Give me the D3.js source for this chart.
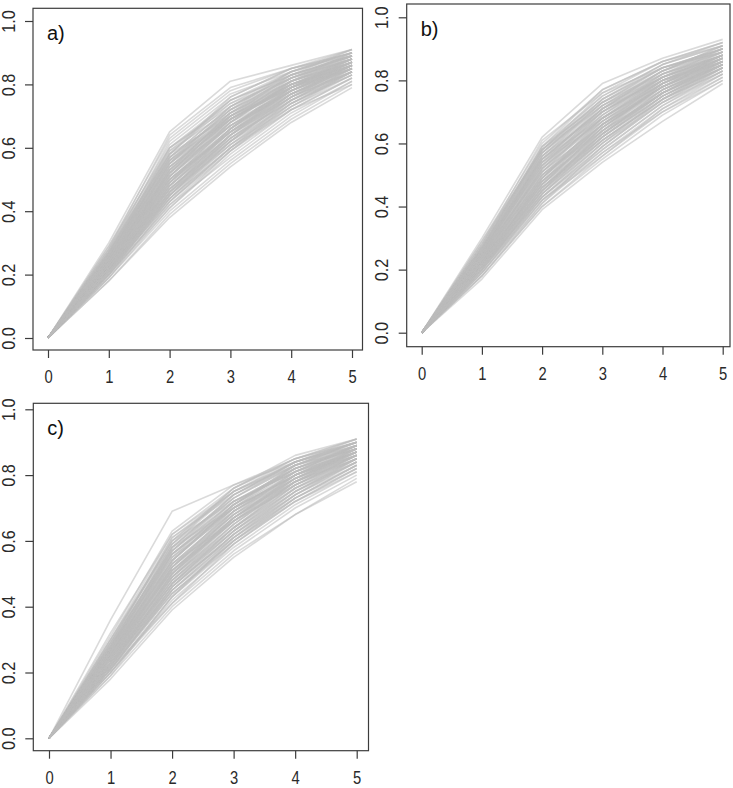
<!DOCTYPE html>
<html>
<head>
<meta charset="utf-8">
<script src="https://cdn.jsdelivr.net/npm/d3@7"></script>
<style>
  html, body { margin: 0; padding: 0; background: #fff; }
  svg { display: block; }
  text { font-family: "Liberation Sans", Arial, sans-serif; }
</style>
</head>
<body>
<svg id="chart" width="733" height="788"></svg>
<script>
// ---------------- data ----------------
const xValues = [0, 1, 2, 3, 4, 5];
const xTickLabels = ["0", "1", "2", "3", "4", "5"];
const yTicks = [0, 0.2, 0.4, 0.6, 0.8, 1.0];
const yTickLabels = ["0.0", "0.2", "0.4", "0.6", "0.8", "1.0"];
const panelLabels = ["a)", "b)", "c)"];

// each row: values at x = 0,1,2,3,4,5
const seriesA = [
  [0,0.30,0.65,0.81,0.86,0.91],[0,0.29,0.63,0.78,0.85,0.90],[0,0.28,0.61,0.76,0.85,0.90],
  [0,0.27,0.60,0.74,0.84,0.91],[0,0.28,0.58,0.75,0.83,0.89],[0,0.26,0.57,0.73,0.84,0.90],
  [0,0.27,0.56,0.72,0.82,0.88],[0,0.25,0.55,0.71,0.83,0.89],[0,0.26,0.54,0.70,0.81,0.88],
  [0,0.25,0.53,0.71,0.82,0.90],[0,0.24,0.52,0.69,0.80,0.87],[0,0.25,0.51,0.68,0.81,0.88],
  [0,0.23,0.50,0.67,0.79,0.87],[0,0.24,0.50,0.66,0.80,0.86],[0,0.23,0.49,0.66,0.78,0.86],
  [0,0.22,0.48,0.65,0.79,0.87],[0,0.23,0.47,0.64,0.77,0.85],[0,0.22,0.46,0.63,0.76,0.85],
  [0,0.21,0.45,0.62,0.77,0.86],[0,0.22,0.44,0.61,0.75,0.84],[0,0.21,0.43,0.60,0.74,0.83],
  [0,0.20,0.42,0.59,0.73,0.84],[0,0.20,0.41,0.58,0.72,0.82],[0,0.19,0.40,0.56,0.70,0.81],
  [0,0.18,0.38,0.54,0.68,0.79],[0,0.27,0.59,0.72,0.81,0.87],[0,0.26,0.56,0.69,0.79,0.86],
  [0,0.24,0.54,0.68,0.78,0.85],[0,0.25,0.52,0.70,0.83,0.91],[0,0.23,0.51,0.69,0.82,0.89],
  [0,0.24,0.53,0.67,0.77,0.84],[0,0.22,0.49,0.68,0.80,0.88],[0,0.23,0.48,0.66,0.81,0.90],
  [0,0.21,0.47,0.63,0.75,0.83],[0,0.22,0.45,0.64,0.78,0.87],[0,0.20,0.44,0.62,0.76,0.86],
  [0,0.21,0.46,0.61,0.73,0.82],[0,0.19,0.43,0.60,0.75,0.85],[0,0.20,0.42,0.57,0.71,0.81],
  [0,0.26,0.58,0.74,0.82,0.88],[0,0.25,0.57,0.71,0.80,0.86],[0,0.24,0.55,0.72,0.84,0.90],
  [0,0.27,0.62,0.77,0.84,0.89],[0,0.28,0.64,0.79,0.85,0.89],[0,0.23,0.52,0.70,0.80,0.86],
  [0,0.24,0.51,0.67,0.79,0.88],[0,0.22,0.50,0.65,0.77,0.86],[0,0.21,0.48,0.64,0.76,0.84],
  [0,0.22,0.47,0.62,0.74,0.83],[0,0.19,0.41,0.59,0.74,0.84],[0,0.20,0.45,0.63,0.77,0.85],
  [0,0.25,0.54,0.69,0.80,0.87],[0,0.26,0.55,0.73,0.83,0.89],[0,0.23,0.53,0.71,0.81,0.87],
  [0,0.24,0.49,0.65,0.78,0.87],[0,0.21,0.44,0.60,0.72,0.80],[0,0.18,0.39,0.55,0.69,0.80],
  [0,0.29,0.60,0.73,0.82,0.88],[0,0.27,0.58,0.70,0.79,0.85],[0,0.22,0.46,0.66,0.79,0.88],
  [0,0.26,0.57,0.71,0.81,0.87],[0,0.25,0.56,0.70,0.80,0.87],[0,0.25,0.55,0.69,0.79,0.86],
  [0,0.24,0.54,0.70,0.81,0.88],[0,0.24,0.53,0.69,0.80,0.88],[0,0.23,0.52,0.68,0.80,0.87],
  [0,0.23,0.51,0.67,0.78,0.86],[0,0.23,0.50,0.66,0.78,0.85],[0,0.22,0.49,0.66,0.79,0.87],
  [0,0.22,0.48,0.64,0.77,0.86],[0,0.22,0.47,0.63,0.75,0.84],[0,0.21,0.46,0.62,0.75,0.85],
  [0,0.21,0.45,0.61,0.74,0.84],[0,0.20,0.44,0.60,0.73,0.83],[0,0.26,0.59,0.75,0.84,0.90],
  [0,0.27,0.57,0.73,0.83,0.89],[0,0.25,0.56,0.72,0.82,0.89],[0,0.24,0.55,0.70,0.79,0.85],
  [0,0.23,0.53,0.69,0.79,0.86],[0,0.22,0.51,0.68,0.81,0.89],[0,0.24,0.52,0.67,0.78,0.86],
  [0,0.23,0.50,0.65,0.76,0.84],[0,0.22,0.49,0.65,0.77,0.85],[0,0.21,0.48,0.65,0.78,0.86],
  [0,0.22,0.47,0.64,0.76,0.84],[0,0.21,0.46,0.64,0.79,0.89],[0,0.20,0.45,0.62,0.76,0.86],
  [0,0.21,0.43,0.59,0.72,0.82],[0,0.25,0.58,0.76,0.85,0.91],[0,0.26,0.60,0.75,0.83,0.88]
];

const seriesB = [
  [0,0.30,0.62,0.79,0.87,0.93],[0,0.29,0.60,0.77,0.86,0.92],[0,0.28,0.59,0.75,0.85,0.91],
  [0,0.28,0.58,0.74,0.84,0.90],[0,0.27,0.57,0.72,0.83,0.91],[0,0.26,0.56,0.73,0.84,0.89],
  [0,0.27,0.55,0.71,0.82,0.90],[0,0.25,0.54,0.70,0.81,0.88],[0,0.26,0.53,0.69,0.82,0.89],
  [0,0.24,0.52,0.68,0.80,0.87],[0,0.25,0.51,0.69,0.81,0.88],[0,0.23,0.50,0.67,0.79,0.87],
  [0,0.24,0.49,0.66,0.80,0.88],[0,0.22,0.48,0.65,0.78,0.86],[0,0.23,0.47,0.64,0.77,0.85],
  [0,0.21,0.46,0.63,0.76,0.86],[0,0.22,0.45,0.62,0.75,0.84],[0,0.20,0.44,0.61,0.74,0.83],
  [0,0.21,0.43,0.59,0.73,0.84],[0,0.19,0.42,0.58,0.72,0.82],[0,0.18,0.41,0.57,0.70,0.81],
  [0,0.17,0.39,0.54,0.67,0.79],[0,0.28,0.61,0.76,0.84,0.89],[0,0.27,0.58,0.72,0.81,0.87],
  [0,0.26,0.55,0.71,0.83,0.90],[0,0.25,0.53,0.71,0.83,0.91],[0,0.24,0.51,0.66,0.78,0.86],
  [0,0.23,0.52,0.68,0.79,0.86],[0,0.22,0.49,0.67,0.80,0.89],[0,0.23,0.48,0.63,0.76,0.84],
  [0,0.21,0.47,0.65,0.78,0.87],[0,0.22,0.46,0.61,0.74,0.83],[0,0.20,0.45,0.63,0.77,0.86],
  [0,0.21,0.44,0.60,0.73,0.82],[0,0.19,0.43,0.60,0.75,0.85],[0,0.20,0.42,0.56,0.70,0.80],
  [0,0.18,0.40,0.56,0.71,0.82],[0,0.26,0.57,0.74,0.85,0.92],[0,0.25,0.56,0.70,0.80,0.86],
  [0,0.24,0.54,0.72,0.82,0.88],[0,0.27,0.59,0.73,0.82,0.88],[0,0.23,0.50,0.65,0.77,0.85],
  [0,0.24,0.52,0.70,0.81,0.89],[0,0.22,0.47,0.62,0.75,0.84],[0,0.21,0.45,0.64,0.79,0.88],
  [0,0.20,0.43,0.58,0.72,0.83],[0,0.19,0.41,0.59,0.74,0.84],[0,0.25,0.55,0.68,0.79,0.86],
  [0,0.26,0.54,0.67,0.78,0.85],[0,0.23,0.49,0.68,0.81,0.90],[0,0.22,0.48,0.66,0.78,0.87],
  [0,0.21,0.46,0.62,0.76,0.85],[0,0.29,0.58,0.76,0.86,0.91],[0,0.20,0.44,0.62,0.76,0.86],
  [0,0.18,0.40,0.55,0.69,0.80],
  [0,0.26,0.56,0.71,0.81,0.88],[0,0.25,0.55,0.70,0.82,0.89],[0,0.25,0.54,0.69,0.80,0.87],
  [0,0.24,0.53,0.70,0.81,0.88],[0,0.24,0.52,0.67,0.79,0.87],[0,0.23,0.51,0.66,0.78,0.86],
  [0,0.23,0.50,0.66,0.79,0.88],[0,0.22,0.49,0.65,0.78,0.87],[0,0.22,0.48,0.64,0.76,0.85],
  [0,0.22,0.47,0.63,0.77,0.86],[0,0.21,0.46,0.62,0.75,0.84],[0,0.21,0.45,0.61,0.74,0.85],
  [0,0.20,0.44,0.60,0.74,0.84],[0,0.27,0.58,0.75,0.85,0.91],[0,0.26,0.57,0.73,0.83,0.89],
  [0,0.25,0.56,0.72,0.83,0.90],[0,0.24,0.55,0.71,0.80,0.86],[0,0.23,0.53,0.68,0.80,0.88],
  [0,0.24,0.51,0.68,0.80,0.87],[0,0.23,0.50,0.64,0.76,0.85],[0,0.22,0.49,0.66,0.77,0.85],
  [0,0.21,0.48,0.64,0.78,0.87],[0,0.22,0.47,0.65,0.79,0.88],[0,0.21,0.46,0.63,0.76,0.85],
  [0,0.20,0.45,0.61,0.75,0.85],[0,0.20,0.43,0.59,0.73,0.83],[0,0.19,0.42,0.57,0.71,0.81],
  [0,0.27,0.59,0.77,0.86,0.92],[0,0.26,0.58,0.74,0.84,0.90],[0,0.24,0.57,0.73,0.84,0.90]
];

const seriesC = [
  [0,0.36,0.69,0.77,0.84,0.89],[0,0.31,0.63,0.77,0.85,0.90],[0,0.30,0.62,0.76,0.86,0.91],
  [0,0.29,0.60,0.75,0.84,0.90],[0,0.30,0.59,0.73,0.83,0.89],[0,0.28,0.58,0.74,0.84,0.91],
  [0,0.29,0.57,0.72,0.82,0.88],[0,0.27,0.56,0.71,0.83,0.90],[0,0.28,0.55,0.72,0.81,0.89],
  [0,0.26,0.54,0.70,0.82,0.88],[0,0.27,0.53,0.69,0.80,0.87],[0,0.25,0.52,0.68,0.81,0.89],
  [0,0.26,0.51,0.67,0.79,0.87],[0,0.24,0.50,0.66,0.78,0.86],[0,0.25,0.49,0.65,0.79,0.88],
  [0,0.23,0.48,0.64,0.77,0.86],[0,0.24,0.47,0.63,0.76,0.85],[0,0.22,0.46,0.62,0.75,0.84],
  [0,0.23,0.45,0.61,0.74,0.85],[0,0.21,0.44,0.60,0.73,0.83],[0,0.20,0.42,0.58,0.71,0.81],
  [0,0.19,0.40,0.56,0.68,0.79],[0,0.29,0.61,0.74,0.83,0.88],[0,0.28,0.58,0.70,0.80,0.86],
  [0,0.27,0.57,0.73,0.84,0.90],[0,0.26,0.55,0.69,0.79,0.86],[0,0.25,0.54,0.71,0.82,0.89],
  [0,0.24,0.52,0.70,0.83,0.90],[0,0.26,0.53,0.66,0.77,0.85],[0,0.23,0.50,0.67,0.80,0.88],
  [0,0.24,0.49,0.64,0.76,0.84],[0,0.22,0.48,0.65,0.78,0.87],[0,0.23,0.47,0.61,0.73,0.82],
  [0,0.21,0.46,0.63,0.77,0.86],[0,0.22,0.44,0.59,0.72,0.82],[0,0.20,0.43,0.61,0.75,0.85],
  [0,0.21,0.41,0.57,0.70,0.80],[0,0.32,0.62,0.75,0.83,0.88],[0,0.27,0.59,0.76,0.85,0.91],
  [0,0.25,0.56,0.72,0.81,0.87],[0,0.24,0.51,0.68,0.79,0.86],[0,0.23,0.50,0.69,0.81,0.89],
  [0,0.22,0.47,0.64,0.78,0.88],[0,0.21,0.45,0.62,0.74,0.83],[0,0.19,0.43,0.60,0.74,0.84],
  [0,0.20,0.41,0.59,0.73,0.83],[0,0.28,0.56,0.70,0.80,0.87],[0,0.26,0.52,0.67,0.78,0.85],
  [0,0.25,0.51,0.66,0.80,0.89],[0,0.22,0.49,0.66,0.79,0.87],[0,0.24,0.53,0.68,0.78,0.85],
  [0,0.21,0.45,0.60,0.72,0.81],[0,0.30,0.60,0.72,0.81,0.87],[0,0.18,0.39,0.55,0.68,0.78],
  [0,0.27,0.54,0.71,0.83,0.90],
  [0,0.27,0.57,0.72,0.82,0.89],[0,0.27,0.56,0.71,0.82,0.88],[0,0.26,0.55,0.70,0.81,0.88],
  [0,0.26,0.54,0.71,0.82,0.89],[0,0.25,0.53,0.69,0.80,0.87],[0,0.25,0.52,0.68,0.80,0.88],
  [0,0.24,0.51,0.67,0.79,0.87],[0,0.24,0.50,0.67,0.80,0.88],[0,0.23,0.49,0.65,0.78,0.86],
  [0,0.23,0.48,0.64,0.77,0.86],[0,0.22,0.47,0.63,0.76,0.85],[0,0.22,0.46,0.62,0.75,0.85],
  [0,0.21,0.45,0.61,0.74,0.84],[0,0.28,0.59,0.75,0.85,0.91],[0,0.28,0.58,0.73,0.83,0.89],
  [0,0.27,0.57,0.74,0.84,0.90],[0,0.26,0.56,0.70,0.80,0.86],[0,0.25,0.54,0.70,0.80,0.87],
  [0,0.24,0.52,0.69,0.81,0.89],[0,0.25,0.51,0.66,0.78,0.86],[0,0.23,0.50,0.66,0.77,0.85],
  [0,0.22,0.49,0.67,0.79,0.88],[0,0.23,0.48,0.63,0.75,0.84],[0,0.22,0.47,0.64,0.78,0.87],
  [0,0.21,0.46,0.62,0.76,0.86],[0,0.21,0.44,0.60,0.73,0.83],[0,0.20,0.43,0.59,0.72,0.82],
  [0,0.29,0.60,0.76,0.85,0.90],[0,0.28,0.61,0.75,0.84,0.89],[0,0.26,0.58,0.74,0.84,0.90]
];

const allSeries = [seriesA, seriesB, seriesC];

// ---------------- layout (pixels) ----------------
const layout = [
  { left: 33,    right: 362.5, top: 8.3,   bottom: 350,   x0: 48,    x5: 352,   y0: 338,   y1: 21 },
  { left: 406.7, right: 730,   top: 4,     bottom: 346.7, x0: 421.7, x5: 722.7, y0: 332.7, y1: 17.3 },
  { left: 33.3,  right: 368.5, top: 403.3, bottom: 750.7, x0: 49,    x5: 356.7, y0: 738.3, y1: 409.3 }
];

const axisColor = "#3c3c3c";
const textColor = "#2a2a2a";
const lineColor = "#bcbcbc";
const fontSize = 18;
const squeezeX = 0.82;
const squeezeY = 0.9;

const svg = d3.select("#chart");
svg.append("rect").attr("width", 733).attr("height", 788).attr("fill", "#fff");

layout.forEach((L, p) => {
  const g = svg.append("g");
  const x = d3.scaleLinear().domain([0, 5]).range([L.x0, L.x5]);
  const y = d3.scaleLinear().domain([0, 1]).range([L.y0, L.y1]);

  // lines
  const line = d3.line().x((d, i) => x(xValues[i])).y(d => y(d));
  g.append("g")
    .selectAll("path")
    .data(allSeries[p])
    .join("path")
    .attr("d", line)
    .attr("fill", "none")
    .attr("stroke", lineColor)
    .attr("stroke-opacity", 0.55)
    .attr("stroke-width", 1.6)
    .attr("stroke-linejoin", "round");

  // box
  g.append("rect")
    .attr("x", L.left).attr("y", L.top)
    .attr("width", L.right - L.left).attr("height", L.bottom - L.top)
    .attr("fill", "none").attr("stroke", axisColor).attr("stroke-width", 1.2);

  // x axis
  const xa = g.append("g")
    .attr("transform", `translate(0,${L.bottom})`)
    .call(d3.axisBottom(x).tickValues(xValues).tickFormat((d, i) => xTickLabels[i])
      .tickSize(8).tickPadding(12.5));
  xa.select(".domain").remove();
  xa.selectAll("line").attr("stroke", axisColor).attr("stroke-width", 1.2);
  xa.selectAll("text").attr("font-size", fontSize).attr("fill", textColor)
    .attr("font-family", "'Liberation Sans', Arial, sans-serif")
    .each(function () {
      const w = this.getComputedTextLength();
      d3.select(this).attr("textLength", w * squeezeX).attr("lengthAdjust", "spacingAndGlyphs");
    });

  // y axis
  const ya = g.append("g")
    .attr("transform", `translate(${L.left},0)`)
    .call(d3.axisLeft(y).tickValues(yTicks).tickFormat((d, i) => yTickLabels[i]).tickSize(8));
  ya.select(".domain").remove();
  ya.selectAll("line").attr("stroke", axisColor).attr("stroke-width", 1.2);
  ya.selectAll("text")
    .attr("x", 0).attr("y", 0).attr("dy", 0)
    .attr("text-anchor", "middle")
    .attr("transform", "translate(-18.5,0) rotate(-90)")
    .attr("font-size", fontSize).attr("fill", textColor)
    .attr("font-family", "'Liberation Sans', Arial, sans-serif")
    .each(function () {
      const w = this.getComputedTextLength();
      d3.select(this).attr("textLength", w * squeezeY).attr("lengthAdjust", "spacingAndGlyphs");
    });

  // panel label
  g.append("text")
    .attr("x", L.left + 14)
    .attr("y", L.top + 32)
    .attr("font-size", 20)
    .attr("fill", "#111")
    .text(panelLabels[p]);
});
</script>
</body>
</html>
